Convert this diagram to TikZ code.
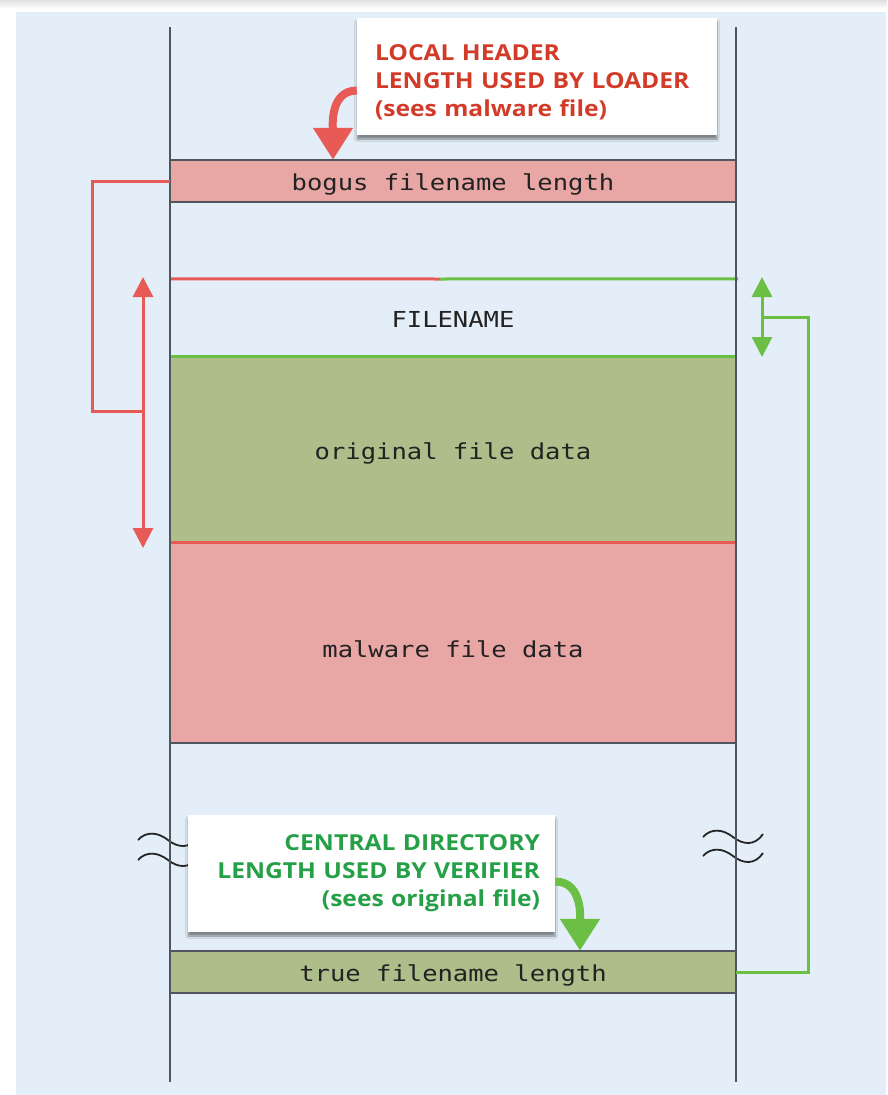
\documentclass[tikz,border=0pt]{standalone}
\usepackage{fontspec}
\setmainfont{Open Sans}
\newfontfamily\labelfont[FakeStretch=1.12]{Open Sans}
\newfontfamily\codefont[FakeStretch=1.16]{DejaVu Sans Mono}
\usetikzlibrary{arrows.meta,shadows.blur}

\definecolor{pagebg}{HTML}{E4EEF8}
\definecolor{rulegray}{HTML}{50555E}
\definecolor{pinkfill}{HTML}{E8A6A5}
\definecolor{greenfill}{HTML}{AEBE8A}
\definecolor{redline}{HTML}{E85A55}
\definecolor{greenline}{HTML}{6CBF45}
\definecolor{redtext}{HTML}{D23B28}
\definecolor{greentext}{HTML}{26A046}
\definecolor{codetext}{HTML}{222222}

\begin{document}
\begin{tikzpicture}[x=1pt,y=-1pt,
  rule/.style={draw=rulegray,line width=2pt},
  field/.style={minimum width=566pt,inner sep=0pt,text height=19pt,text depth=0pt,
    font=\codefont\fontsize{22}{24}\selectfont,text=codetext},
  redlink/.style={draw=redline,line width=3pt},
  greenlink/.style={draw=greenline,line width=3pt},
  bothtips/.style={{Triangle[width=20pt,length=20pt]}-{Triangle[width=20pt,length=20pt]}},
  callout/.style={fill=white,inner xsep=18pt,inner ysep=0pt,minimum height=117pt,
    font=\labelfont\bfseries\fontsize{22}{28}\selectfont,
    blur shadow={shadow xshift=0pt,shadow yshift=-4pt,shadow blur steps=6,shadow opacity=45}},
  bigtip/.style={-{Triangle[width=38pt,length=32pt]},line width=8pt},
  breakmark/.style={draw=black!85,line width=1.8pt}
]
\useasboundingbox (0,0) rectangle (887,1095);
% page and panel
\fill[white] (0,0) rectangle (887,1095);
\shade[top color=black!12,bottom color=white] (0,0) rectangle (887,9);
\fill[pagebg] (16,12) rectangle (886,1095);

% fields of the archive
\node[field,fill=pinkfill,minimum height=42pt] (bogus) at (453,181) {bogus filename length};
\node[field,minimum height=78pt] (fname) at (453,318) {FILENAME};
\node[field,fill=greenfill,minimum height=186pt] (orig) at (453,450) {original file data};
\node[field,fill=pinkfill,minimum height=200pt] (malw) at (453,643) {\raisebox{-5pt}{malware file data}};
\node[field,fill=greenfill,minimum height=42pt] (truel) at (453,972) {true filename length};

% field borders
\draw[rule] (bogus.north west) -- (bogus.north east);
\draw[rule] (bogus.south west) -- (bogus.south east);
\draw[rule] (malw.south west) -- (malw.south east);
\draw[rule] (truel.north west) -- (truel.north east);
\draw[rule] (truel.south west) -- (truel.south east);
\coordinate (split) at (440,279);
\draw[redlink] (fname.north west) -- (split);
\draw[greenlink] (split) -- ([xshift=2pt]fname.north east);
\draw[greenlink] (orig.north west) -- (orig.north east);
\draw[redlink] (malw.north west) -- (malw.north east);

% break marks on the stream edges
\foreach \x/\c in {138/840,138/860,703/837,703/856}{
  \draw[breakmark] (\x,\c) .. controls (\x+8,\c-9) and (\x+20,\c-8) .. (\x+30,\c)
    .. controls (\x+40,\c+8) and (\x+52,\c+9) .. (\x+60,\c-3);
}

% stream edges
\draw[rule] (170,27) -- (170,1082);
\draw[rule] (736,27) -- (736,1082);

% span seen by the loader
\coordinate (rtop) at (143,277);
\coordinate (rbot) at (143,548);
\coordinate (rmid) at (143,411);
\draw[redlink,bothtips] (rtop) -- (rbot);
\draw[redlink] (bogus.west) -- ++(-77,0) |- (rmid);

% span seen by the verifier
\coordinate (gtop) at (762,277);
\coordinate (gbot) at (762,357);
\coordinate (gmid) at (762,317);
\draw[greenlink,bothtips] (gtop) -- (gbot);
\draw[greenlink] (truel.east) -- ++(72,0) |- (gmid);

% callouts
\node[callout,text=redtext,align=left,text width=324pt] (lhcall) at (537,76.5)
  {\rule{0pt}{27pt}LOCAL HEADER\\LENGTH USED BY LOADER\\(sees malware file)};
\draw[redline,bigtip] ([yshift=-14pt]lhcall.west) to[out=180,in=90] ([xshift=-120pt]bogus.north);

\node[callout,text=greentext,align=right,text width=337pt,inner xsep=15pt] (vfcall) at (371.5,873.5)
  {CENTRAL DIRECTORY\\LENGTH USED BY VERIFIER\\(sees original file)};
\draw[greenline,bigtip] ([yshift=-8pt]vfcall.east) to[out=0,in=90] ([xshift=127pt]truel.north);
\end{tikzpicture}
\end{document}
